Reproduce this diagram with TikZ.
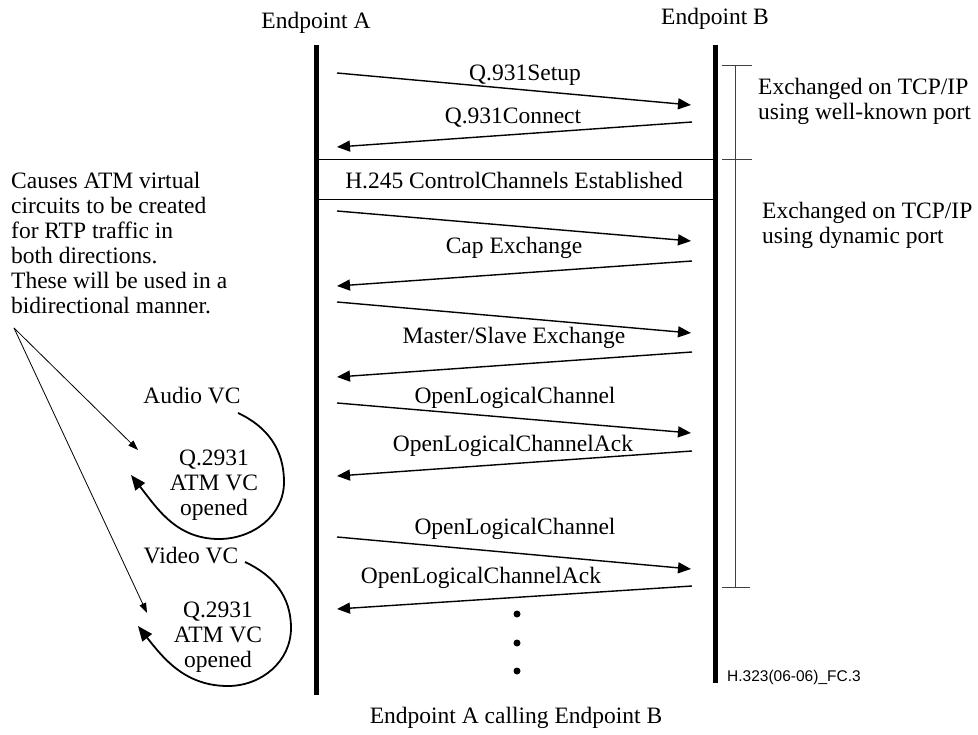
\documentclass[tikz,border=0pt]{standalone}
\usepackage{fontspec}
\setmainfont{Liberation Serif}
\newfontfamily\figsans{Liberation Sans}
\usetikzlibrary{arrows.meta, positioning}
\tikzset{
    seqLifeline/.style={
        line width=5pt, draw=black
    },
    seqMsg/.style={
        -{Triangle[length=13pt, width=11pt]}, line width=1.4pt, draw=black
    },
    seqRule/.style={
        line width=0.9pt, draw=black
    },
    seqLabel/.style={
        anchor=base, inner sep=0pt, font=\fontsize{23.5}{25}\selectfont
    },
    seqNote/.style={
        inner sep=0pt, align=left, font=\fontsize{23.5}{25}\selectfont
    },
    seqBracket/.style={
        line width=0.9pt, draw=black!75
    },
    seqPointer/.style={
        -{Triangle[length=10pt, width=7pt]}, line width=0.8pt, draw=black
    },
    seqLoop/.style={
        -{Triangle[length=15pt, width=12pt]}, line width=1.8pt, draw=black
    },
    seqDot/.style={
        circle, fill=black, inner sep=0pt, minimum size=7pt
    }
}

\begin{document}
\begin{tikzpicture}[x=1pt, y=1pt]
    \useasboundingbox (0,0) rectangle (978,-735);

    % ── ENDPOINT HEADERS AND LIFELINES
    \node[seqLabel] (titleA) at (316,-29) {Endpoint A};
    \node[seqLabel] (titleB) at (715,-25) {Endpoint B};
    \coordinate (aTop) at (316,-45);
    \coordinate (aBot) at (316,-695);
    \coordinate (bTop) at (715,-45);
    \coordinate (bBot) at (715,-683);
    \draw[seqLifeline] (aTop) -- (aBot);
    \draw[seqLifeline] (bTop) -- (bBot);

    % ── Q.931 CALL SIGNALLING
    \coordinate (setupA) at (337,-73);
    \coordinate (setupB) at (691,-105);
    \coordinate (connB) at (692,-122);
    \coordinate (connA) at (337,-147);
    \draw[seqMsg] (setupA) -- (setupB);
    \draw[seqMsg] (connB) -- (connA);
    \node[seqLabel] (lblSetup) at (525,-81) {Q.931Setup};
    \node[seqLabel] (lblConn) at (513,-124) {Q.931Connect};

    % ── H.245 CONTROL CHANNEL
    \coordinate (ruleTopA) at (316,-159);
    \coordinate (ruleTopB) at (713,-159);
    \coordinate (ruleBotA) at (316,-199);
    \coordinate (ruleBotB) at (713,-199);
    \draw[seqRule] (ruleTopA) -- (ruleTopB);
    \draw[seqRule] (ruleBotA) -- (ruleBotB);
    \node[seqLabel] (lblH245) at (514,-189) {H.245 ControlChannels Established};

    % ── CAPABILITY AND MASTER/SLAVE EXCHANGE
    \coordinate (capA) at (337,-211);
    \coordinate (capB) at (691,-241);
    \coordinate (capRetB) at (692,-261);
    \coordinate (capRetA) at (337,-286);
    \draw[seqMsg] (capA) -- (capB);
    \draw[seqMsg] (capRetB) -- (capRetA);
    \node[seqLabel] (lblCap) at (514,-254) {Cap Exchange};
    \coordinate (msA) at (337,-302);
    \coordinate (msB) at (691,-333);
    \coordinate (msRetB) at (692,-352);
    \coordinate (msRetA) at (337,-377);
    \draw[seqMsg] (msA) -- (msB);
    \draw[seqMsg] (msRetB) -- (msRetA);
    \node[seqLabel] (lblMS) at (514,-344) {Master/Slave Exchange};

    % ── LOGICAL CHANNELS
    \coordinate (olcA) at (337,-403);
    \coordinate (olcB) at (691,-433);
    \coordinate (ackB) at (692,-451);
    \coordinate (ackA) at (337,-476);
    \draw[seqMsg] (olcA) -- (olcB);
    \draw[seqMsg] (ackB) -- (ackA);
    \node[seqLabel] (lblOlc) at (515,-404) {OpenLogicalChannel};
    \node[seqLabel] (lblAck) at (513,-451) {OpenLogicalChannelAck};
    \coordinate (olcTwoA) at (337,-537);
    \coordinate (olcTwoB) at (691,-569);
    \coordinate (ackTwoB) at (692,-586);
    \coordinate (ackTwoA) at (337,-609);
    \draw[seqMsg] (olcTwoA) -- (olcTwoB);
    \draw[seqMsg] (ackTwoB) -- (ackTwoA);
    \node[seqLabel] (lblOlcTwo) at (515,-534) {OpenLogicalChannel};
    \node[seqLabel] (lblAckTwo) at (481,-583) {OpenLogicalChannelAck};
    \node[seqDot] (dotOne) at (517,-614) {};
    \node[seqDot] (dotTwo) at (517,-643) {};
    \node[seqDot] (dotThree) at (517,-671) {};

    % ── TCP/IP BRACKET
    \coordinate (brTop) at (735,-65);
    \coordinate (brMid) at (735,-159);
    \coordinate (brBot) at (735,-587);
    \draw[seqBracket] (brTop) -- (brBot);
    \draw[seqBracket] ([xshift=-13pt]brTop) -- ([xshift=17pt]brTop);
    \draw[seqBracket] ([xshift=-13pt]brMid) -- ([xshift=17pt]brMid);
    \draw[seqBracket] ([xshift=-13pt]brBot) -- ([xshift=15pt]brBot);
    \node[seqNote, anchor=north west] (noteWell) at (758,-77.7) {Exchanged on TCP/IP\\using well-known port};
    \node[seqNote, anchor=north west] (noteDyn) at (762,-201.7) {Exchanged on TCP/IP\\using dynamic port};

    % ── ATM VIRTUAL CIRCUITS
    \node[seqNote, anchor=north west] (noteATM) at (11,-172) {Causes ATM virtual\\circuits to be created\\for RTP traffic in\\both directions.\\These will be used in a\\bidirectional manner.};
    \coordinate (ptrFrom) at (14,-328);
    \coordinate (ptrAudio) at (138,-450);
    \coordinate (ptrVideo) at (147,-613);
    \draw[seqPointer] (ptrFrom) -- (ptrAudio);
    \draw[seqPointer] (ptrFrom) -- (ptrVideo);

    \node[seqLabel] (audioVC) at (192,-403) {Audio VC};
    \node[seqNote, align=center, anchor=north] (audioOpen) at (214,-450) {Q.2931\\ATM VC\\opened};
    \coordinate (audioStart) at (238,-413);
    \coordinate (audioSide) at (284,-482);
    \coordinate (audioLow) at (219,-539);
    \coordinate (audioTip) at (131,-475);
    \draw[seqLoop] (audioStart) to[out=-25, in=90] (audioSide) to[out=-90, in=0] (audioLow) to[out=180, in=-52] (audioTip);

    \node[seqLabel] (videoVC) at (191,-563) {Video VC};
    \node[seqNote, align=center, anchor=north] (videoOpen) at (218,-602) {Q.2931\\ATM VC\\opened};
    \coordinate (videoStart) at (245,-562);
    \coordinate (videoSide) at (291,-628);
    \coordinate (videoLow) at (228,-686);
    \coordinate (videoTip) at (138,-626);
    \draw[seqLoop] (videoStart) to[out=-25, in=90] (videoSide) to[out=-90, in=0] (videoLow) to[out=180, in=-52] (videoTip);

    % ── CAPTIONS
    \node[seqLabel] (caption) at (516,-723) {Endpoint A calling Endpoint B};
    \node[anchor=base west, inner sep=0pt, font=\figsans\fontsize{15.5}{18}\selectfont] (figId) at (727,-681) {H.323(06-06)\_FC.3};
\end{tikzpicture}
\end{document}
